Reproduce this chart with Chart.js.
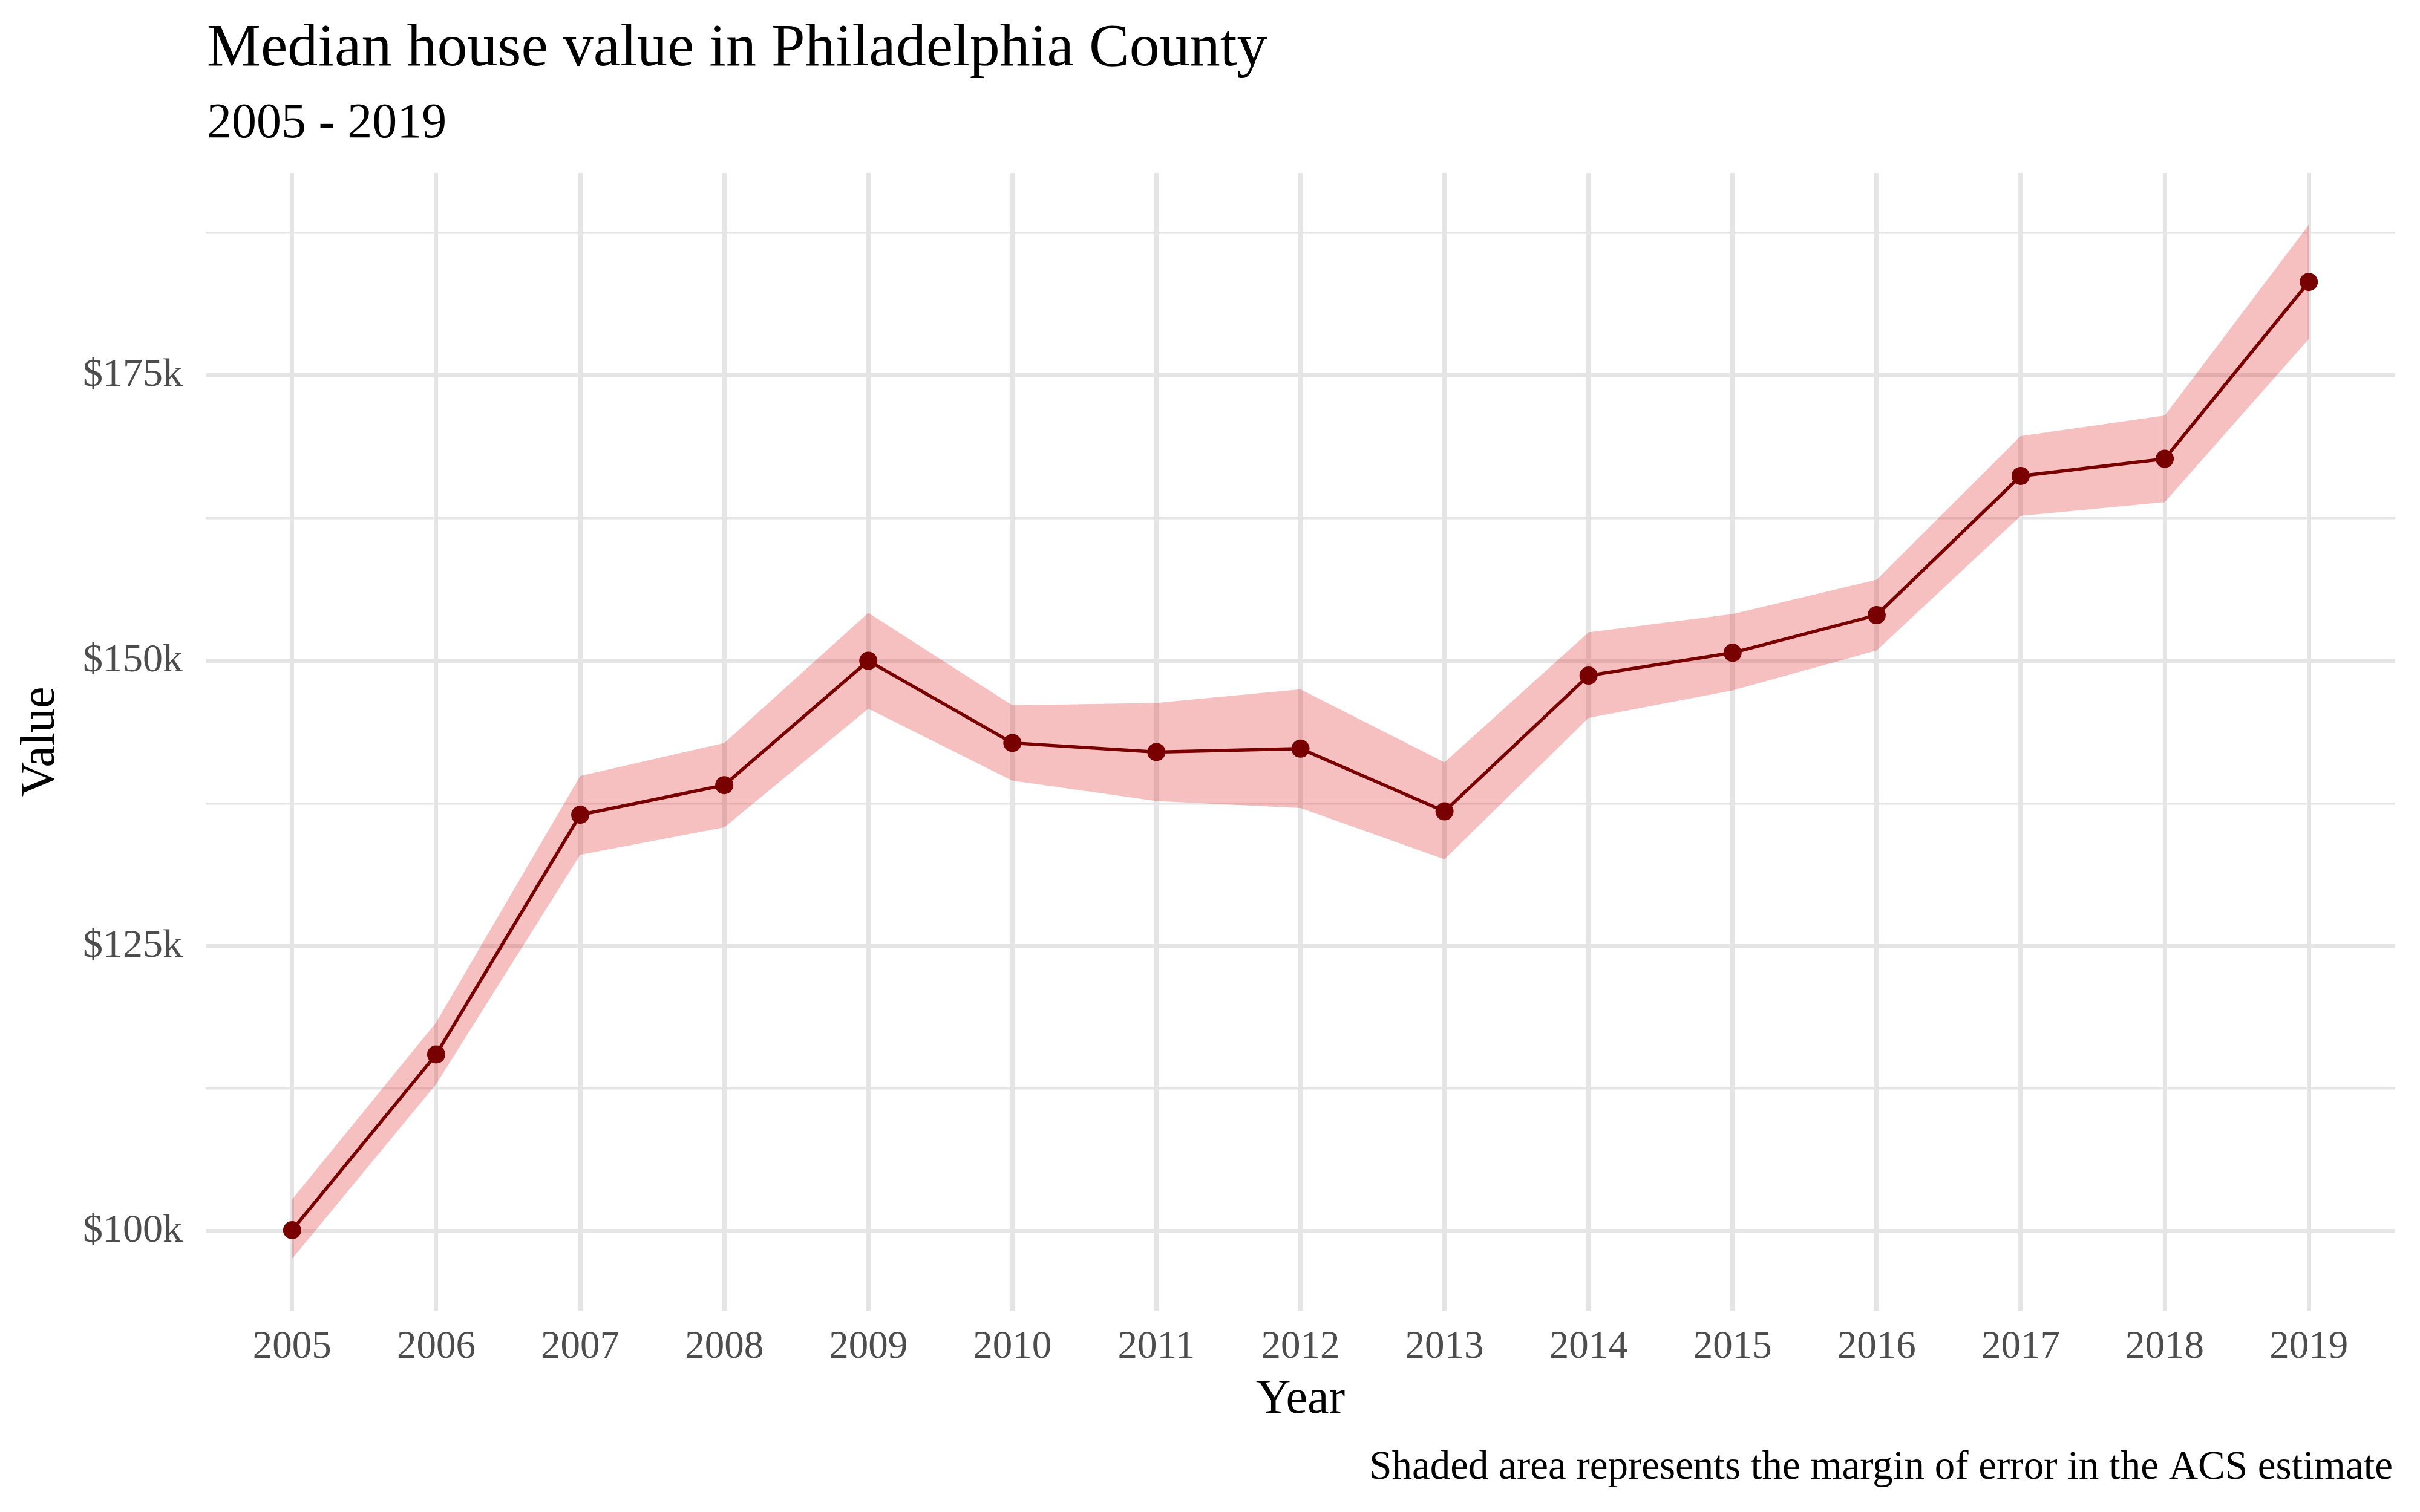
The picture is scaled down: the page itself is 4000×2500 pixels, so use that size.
<!DOCTYPE html>
<html>
<head>
<meta charset="utf-8">
<script src="https://cdn.jsdelivr.net/npm/chart.js@4"></script>
<style>
  html,body{margin:0;padding:0;background:#fff;}
  #wrap{width:4000px;height:2500px;}
</style>
</head>
<body>
<div id="wrap"><canvas id="houseChart" width="4000" height="2500"></canvas></div>
<script>
// 연도별 중위 주택가격 (ACS 추정치, 달러)
const years=[2005,2006,2007,2008,2009,2010,2011,2012,2013,2014,2015,2016,2017,2018,2019];
const medianValue=[100100,115500,136500,139100,150000,142800,142000,142300,136800,148700,150700,154000,166200,167700,183200];
// 오차범위 하한 / 상한
const moeLower=[97600,112900,133000,135400,145800,139500,137700,137100,132600,145000,147400,150900,162700,163900,178200];
const moeUpper=[102800,118300,139900,142800,154200,146100,146300,147500,141100,152500,154100,157100,169700,171500,188200];
// y축 눈금 (주선 + 보조선)
const yTicks=[100000,112500,125000,137500,150000,162500,175000,187500];

const serif="'Liberation Serif','Times New Roman',serif";
const gridCol='#e5e5e5';

const toXY=arr=>arr.map((v,i)=>({x:years[i],y:v}));

// 제목, 부제, 캡션
const textPlugin={
  id:'ggText',
  afterDraw(chart){
    const c=chart.ctx;
    c.save();
    c.fillStyle='#000';
    c.textBaseline='alphabetic';
    c.textAlign='left';
    c.font=`100px ${serif}`;
    c.fillText('Median house value in Philadelphia County',342,108);
    c.font=`82px ${serif}`;
    c.fillText('2005 - 2019',342,227);
    c.textAlign='right';
    c.font=`67px ${serif}`;
    c.fillText('Shaded area represents the margin of error in the ACS estimate',3955,2445);
    c.restore();
  }
};

new Chart(document.getElementById('houseChart'),{type:'line',
  data:{datasets:[
    {data:toXY(medianValue),borderColor:'#780000',borderWidth:5.5,pointRadius:15,pointHoverRadius:15,pointBackgroundColor:'#780000',pointBorderWidth:0,fill:false,tension:0},
    {data:toXY(moeUpper),borderColor:'transparent',borderWidth:0,pointRadius:0,backgroundColor:'rgba(225,30,30,0.28)',fill:'+1',tension:0},
    {data:toXY(moeLower),borderColor:'transparent',borderWidth:0,pointRadius:0,fill:false,tension:0}
  ]},
  options:{responsive:false,animation:false,devicePixelRatio:1,
    layout:{padding:{top:286,right:41,left:0,bottom:0}},
    plugins:{legend:{display:false},tooltip:{enabled:false}},
    scales:{
      x:{type:'linear',min:2004.4,max:2019.6,
        afterBuildTicks:s=>{s.ticks=years.map(v=>({value:v}));},
        afterFit:s=>{s.height=333;},
        border:{display:false},
        grid:{color:gridCol,lineWidth:7,drawTicks:false},
        ticks:{padding:22,color:'#4d4d4d',font:{family:serif,size:65},maxRotation:0,autoSkip:false,callback:v=>String(v)},
        title:{display:true,text:'Year',color:'#000',font:{family:serif,size:80},padding:{top:0,bottom:137}}
      },
      y:{type:'linear',min:93050,max:192750,
        afterBuildTicks:s=>{s.ticks=yTicks.map(v=>({value:v}));},
        afterFit:s=>{s.width=340;},
        border:{display:false},
        grid:{color:gridCol,lineWidth:c=>c.tick&&c.tick.value%25000===0?7:3.5,drawTicks:false},
        ticks:{padding:38,color:'#4d4d4d',font:{family:serif,size:66},autoSkip:false,callback:v=>v%25000===0?'$'+(v/1000)+'k':''},
        title:{display:true,text:'Value',color:'#000',font:{family:serif,size:80},padding:{top:20,bottom:0}}
      }
    }
  },
  plugins:[textPlugin]
});
</script>
</body>
</html>
